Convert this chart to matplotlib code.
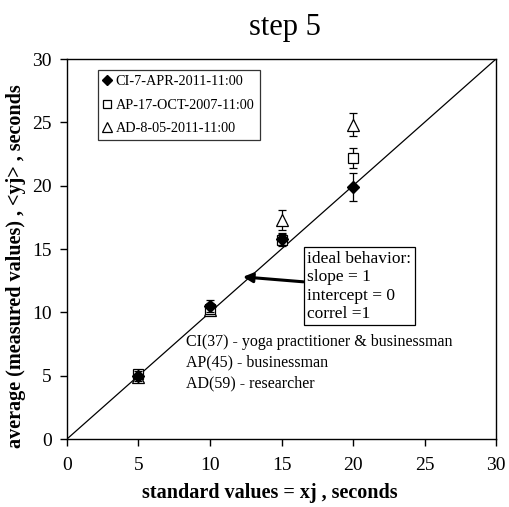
import matplotlib
matplotlib.use("Agg")
import matplotlib.pyplot as plt

plt.rcParams['font.family'] = ['Liberation Serif', 'DejaVu Serif']

x = [5, 10, 15, 20]
ci = [5.0, 10.5, 15.8, 19.9]
ci_err = [0.4, 0.5, 0.5, 1.1]
ap = [5.1, 10.3, 15.7, 22.2]
ap_err = [0.3, 0.4, 0.5, 0.8]
ad = [4.9, 10.2, 17.3, 24.8]
ad_err = [0.3, 0.4, 0.8, 0.9]
labels = ["CI-7-APR-2011-11:00", "AP-17-OCT-2007-11:00", "AD-8-05-2011-11:00"]
ideal = [0, 30]
ticks = [0, 5, 10, 15, 20, 25, 30]

fig = plt.figure(figsize=(5.09, 5.07), dpi=100)
ax = fig.add_axes([0.1316, 0.1341, 0.8429, 0.7495])

ax.plot(ideal, ideal, color='black', lw=0.9, zorder=1)
h1 = ax.errorbar(x, ci, yerr=ci_err, fmt='D', color='black', mfc='black', mec='black',
                 ms=6, capsize=3, elinewidth=0.9, capthick=0.9, zorder=4)
h2 = ax.errorbar(x, ap, yerr=ap_err, fmt='s', color='black', mfc='white', mec='black',
                 ms=7, mew=0.9, capsize=3, elinewidth=0.9, capthick=0.9, zorder=3)
h3 = ax.errorbar(x, ad, yerr=ad_err, fmt='^', color='black', mfc='white', mec='black',
                 ms=8, mew=0.9, capsize=3, elinewidth=0.9, capthick=0.9, zorder=2)

ax.set_xlim(0, 30)
ax.set_ylim(0, 30)
ax.set_xticks(ticks)
ax.set_yticks(ticks)
ax.tick_params(labelsize=14, direction='out', length=5, width=1)
ax.tick_params(axis='x', pad=8)
ax.tick_params(axis='y', pad=6)
for s in ax.spines.values():
    s.set_linewidth(1.0)

ax.set_xlabel("standard values = xj , seconds", fontsize=14.5, fontweight='bold')
ax.set_ylabel("average (measured values) , <yj> , seconds", fontsize=14.5, fontweight='bold')
ax.xaxis.set_label_coords(0.473, -44 / 380, transform=ax.transAxes)
ax.yaxis.set_label_coords(-41 / 429, 0.455, transform=ax.transAxes)
fig.text(0.56, 1 - 35 / 507, "step 5", fontsize=22, ha='center', va='baseline')

leg = ax.legend([h1[0], h2[0], h3[0]], labels, loc='upper left', bbox_to_anchor=(0.072, 0.97),
                borderaxespad=0,
                fontsize=10.3, frameon=True, fancybox=False, edgecolor='black', handlelength=0.6,
                handletextpad=0.3, borderpad=0.35, labelspacing=0.72, markerscale=0.85)
leg.get_frame().set_linewidth(0.9)

ax.annotate("ideal behavior:\nslope = 1\nintercept = 0\ncorrel =1",
            xy=(12.3, 12.8), xytext=(16.8, 12.05), fontsize=12.5, va='center', ha='left',
            linespacing=1.2,
            bbox=dict(boxstyle='square,pad=0.2', fc='white', ec='black', lw=0.9),
            arrowprops=dict(arrowstyle='-|>', color='black', lw=2.2, mutation_scale=14,
                            shrinkA=0, shrinkB=0))

ax.text(8.3, 8.3, "CI(37) - yoga practitioner & businessman\nAP(45) - businessman\nAD(59) - researcher",
        fontsize=11.5, va='top', ha='left', linespacing=1.4)

fig.savefig("out.png", dpi=100)
